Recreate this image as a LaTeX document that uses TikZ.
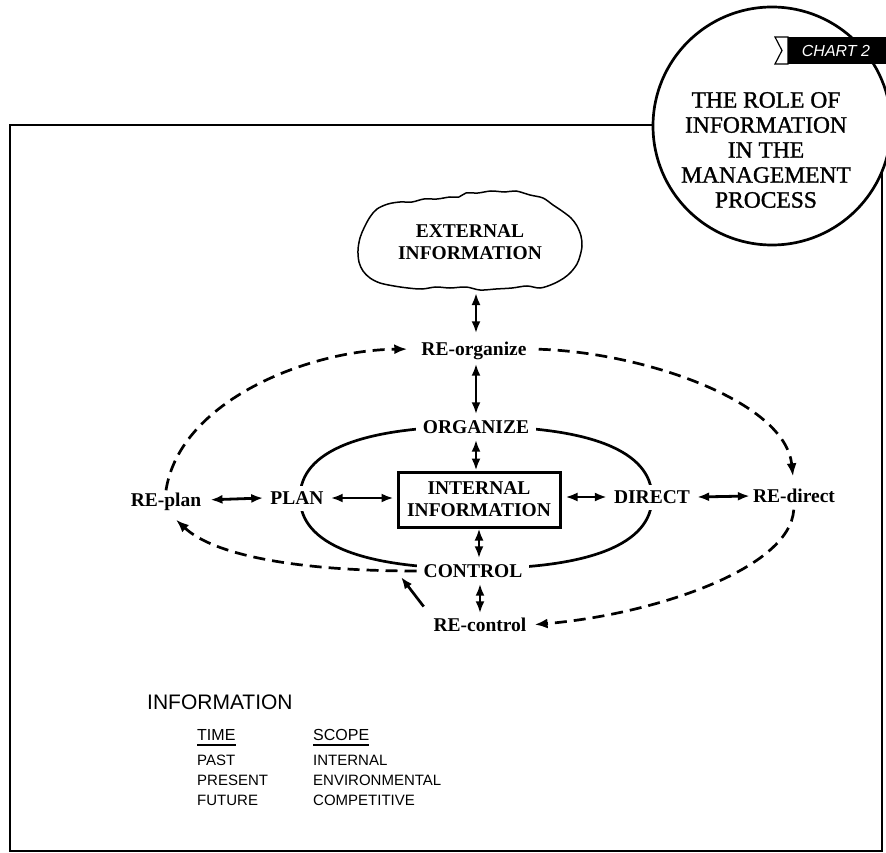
\documentclass[tikz,border=0pt]{standalone}
\usepackage{fontspec}
\setmainfont{Liberation Serif}
\setsansfont{Liberation Sans}
\newfontfamily\titlefont{Liberation Serif}[FakeBold=1.2]
\usetikzlibrary{arrows.meta,calc}
\begin{document}
\begin{tikzpicture}[x=1pt,y=-1pt,
  lbl/.style={font=\bfseries\fontsize{19.5}{22}\selectfont, text height=13pt, text depth=0pt, inner sep=3pt, fill=white},
  onoval/.style={lbl, inner xsep=7pt, inner ysep=6pt},
  dbl/.style={{Latex[length=12pt,width=9pt]}-{Latex[length=12pt,width=9pt]}, line width=2.8pt},
  dsh/.style={-{Latex[length=13pt,width=10pt]}, line width=2.7pt, dash pattern=on 12pt off 7pt},
  ovalline/.style={line width=2.7pt},
  leg/.style={font=\sffamily\fontsize{15}{15}\selectfont, anchor=west, inner sep=0pt, text height=11pt, text depth=0pt},
  leghead/.style={font=\sffamily\fontsize{16}{16}\selectfont, anchor=west, inner sep=0pt, text height=11.5pt, text depth=0pt},
]
\useasboundingbox (0,0) rectangle (886,853);
% frame and title circle
\draw[line width=1.6pt] (10,125) rectangle (882,851);
\draw[line width=2.7pt, fill=white] (772,126) circle (119pt);
\node[align=center, font=\titlefont\fontsize{23.5}{25}\selectfont] (title) at (766,150)
  {THE ROLE OF\\INFORMATION\\IN THE\\MANAGEMENT\\PROCESS};
% chart tag
\draw[line width=1.2pt, fill=white] (775,37) -- (788,37) -- (788,64) -- (775,64) -- (782,50.5) -- cycle;
\fill (788,37) rectangle (886,64);
\node[font=\sffamily\itshape\fontsize{16}{16}\selectfont, text=white] (chart) at (836,50.5) {CHART 2};
% cloud
\draw[line width=1.5pt] plot[smooth cycle, tension=0.55] coordinates {
  (358,250) (360,238) (364,228) (370,217) (377,209) (388,204) (400,202) (412,202)
  (424,199) (437,199) (450,197) (459,197) (466,193) (478,193) (491,191) (505,192)
  (516,191) (530,195) (543,198) (553,205) (562,211) (571,218) (577,226) (581,236)
  (582,246) (580,256) (577,264) (571,272) (564,278) (553,284) (540,288) (527,286)
  (512,288) (496,289) (480,290) (466,287) (450,288) (436,287) (422,289) (408,288)
  (394,286) (380,283) (370,278) (363,271) (359,262)};
\node[font=\bfseries\fontsize{19.5}{22}\selectfont, align=center] (ext) at (470,242) {EXTERNAL\\INFORMATION};
\coordinate (cloudb) at (476,292);
% inner oval (squarish)
\draw[ovalline] (476,426.5) .. controls (590,426.5) and (652,451) .. (652,497.5)
  .. controls (652,544) and (590,568.5) .. (476,568.5)
  .. controls (362,568.5) and (300,544) .. (300,497.5)
  .. controls (300,451) and (362,426.5) .. cycle;
% nodes
\node[lbl] (reorg) at (474,349) {RE-organize};
\node[onoval] (org) at (476,427) {ORGANIZE};
\node[draw, line width=3pt, minimum width=162pt, minimum height=55pt, align=center, inner sep=0pt,
      font=\bfseries\fontsize{19.5}{22}\selectfont] (box) at (479,499.5) {INTERNAL\\INFORMATION};
\node[onoval] (plan) at (297,498) {PLAN};
\node[lbl] (replan) at (166,500) {RE-plan};
\node[onoval] (direct) at (652,497) {DIRECT};
\node[lbl] (redirect) at (794,496) {RE-direct};
\node[onoval] (control) at (473,571) {CONTROL};
\node[lbl] (recontrol) at (480,625) {RE-control};
% vertical arrows
\draw[dbl, shorten <=1pt, shorten >=6pt] (cloudb) -- (cloudb |- reorg.north);
\draw[dbl, shorten <=5pt] (org.north |- reorg.south) -- (org.north);
\draw[dbl] (org.south) -- (org.south |- box.north);
\draw[dbl] (box.south) -- (box.south |- control.north);
\draw[dbl, shorten >=2pt] (recontrol.north |- control.south) -- (recontrol.north);
% horizontal arrows
\draw[dbl, shorten <=6pt] (replan.east) -- (plan.west);
\draw[dbl, shorten >=3pt] (plan.east) -- (box.west |- plan.east);
\draw[dbl, shorten <=4pt] (box.east |- direct.west) -- (direct.west);
\draw[dbl] (direct.east) -- (redirect.west);
% dashed feedback loop
\draw[dsh, shorten >=11pt] (replan.north) .. controls (180,400) and (310,350) .. (reorg.west);
\draw[dsh, shorten <=9pt, shorten >=10pt] (reorg.east) .. controls (640,352) and (785,400) .. (redirect.north);
\draw[dsh, shorten <=4pt, shorten >=5pt] (redirect.south) .. controls (790,570) and (650,615) .. (recontrol.east);
\draw[dsh] (control.west) .. controls (300,571) and (215,556) .. ($(replan.south)+(10,10)$);
\coordinate (junc) at (401,577);
\draw[-{Latex[length=12pt,width=9pt]}, line width=2.7pt, shorten <=11pt] (recontrol.north west) -- (junc);
% legend
\node[font=\sffamily\fontsize{21}{21}\selectfont, anchor=west, inner sep=0pt, text height=15pt, text depth=0pt] (info) at (147,702) {INFORMATION};
\node[leghead] (time) at (197,735) {TIME};
\node[leghead] (scope) at (313,735) {SCOPE};
\draw[line width=1.5pt] ([yshift=-4pt]time.south west) -- ([yshift=-4pt]time.south east);
\draw[line width=1.5pt] ([yshift=-4pt]scope.south west) -- ([yshift=-4pt]scope.south east);
\node[leg] (past) at (197,760) {PAST};
\node[leg] (present) at (197,780) {PRESENT};
\node[leg] (future) at (197,800) {FUTURE};
\node[leg] (internal) at (313,760) {INTERNAL};
\node[leg] (env) at (313,780) {ENVIRONMENTAL};
\node[leg] (comp) at (313,800) {COMPETITIVE};
\end{tikzpicture}
\end{document}
